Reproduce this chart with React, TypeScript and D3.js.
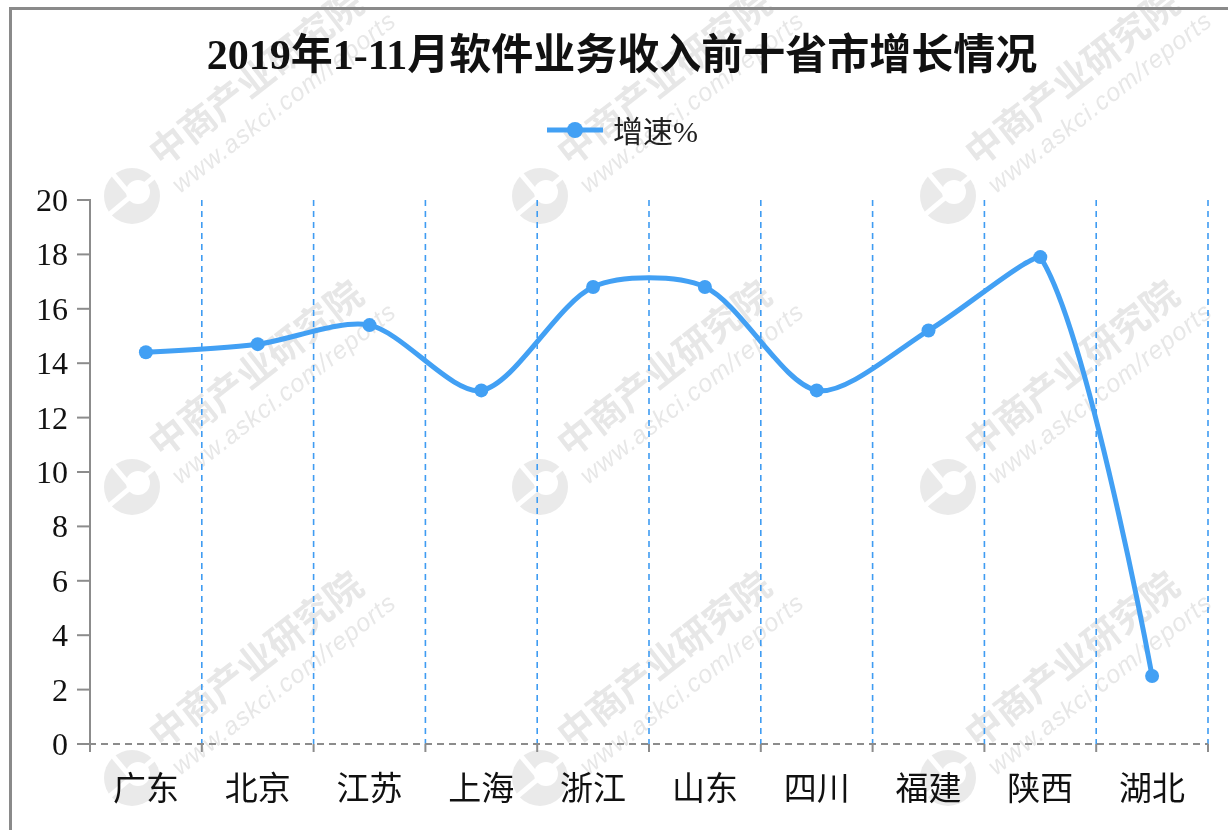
import React from 'react';
import * as d3 from 'd3';

const categories = ['广东', '北京', '江苏', '上海', '浙江', '山东', '四川', '福建', '陕西', '湖北'];
const growth = [14.4, 14.7, 15.4, 13.0, 16.8, 16.8, 13.0, 15.2, 17.9, 2.5];
const seriesName = '增速%';
const titleText = '2019年1-11月软件业务收入前十省市增长情况';
const yDomain = [0, 20];

const W = 1228;
const H = 830;
const LINE = '#42a0f4';
const GRID = '#3f9cf2';
const AXIS = '#8c8c8c';
const SERIF = "'Liberation Serif', 'Noto Sans CJK SC', serif";

// ECharts-4 style smoothed polyline with bounding-box constraint
function smoothPath(pts: [number, number][], smooth: number): string {
  const minX = d3.min(pts, p => p[0])!, maxX = d3.max(pts, p => p[0])!;
  const minY = d3.min(pts, p => p[1])!, maxY = d3.max(pts, p => p[1])!;
  const clamp = (c: [number, number]): [number, number] => [
    Math.max(minX, Math.min(maxX, c[0])),
    Math.max(minY, Math.min(maxY, c[1])),
  ];
  const path = d3.path();
  let cp0: [number, number] = [pts[0][0], pts[0][1]];
  path.moveTo(pts[0][0], pts[0][1]);
  for (let i = 1; i < pts.length; i++) {
    const p = pts[i];
    const prev = pts[i - 1];
    const next = pts[i + 1];
    let cp1: [number, number];
    let v: [number, number] = [0, 0];
    let ratio = 0.5;
    if (!next) {
      cp1 = [p[0], p[1]];
    } else {
      v = [next[0] - prev[0], next[1] - prev[1]];
      const lp = Math.hypot(p[0] - prev[0], p[1] - prev[1]);
      const ln = Math.hypot(p[0] - next[0], p[1] - next[1]);
      ratio = ln / (ln + lp);
      cp1 = [p[0] - v[0] * smooth * (1 - ratio), p[1] - v[1] * smooth * (1 - ratio)];
    }
    const a = clamp(cp0);
    const b = clamp(cp1);
    path.bezierCurveTo(a[0], a[1], b[0], b[1], p[0], p[1]);
    cp0 = [p[0] + v[0] * smooth * ratio, p[1] + v[1] * smooth * ratio];
  }
  return path.toString();
}

function Watermark({ x, y }: { x: number; y: number }) {
  return (
    <g transform={`translate(${x},${y})`} opacity={0.55}>
      <circle r={28} fill="#d9d9d9" />
      <circle r={12} cx={6} cy={-4} fill="#fff" />
      <rect x={-30} y={-3} width={60} height={5} fill="#fff" transform="rotate(-40)" />
      <rect x={-3} y={-30} width={5} height={30} fill="#fff" transform="rotate(-40)" />
      <text
        transform="translate(30,-28) rotate(-38)"
        fontFamily="'Noto Sans CJK SC', sans-serif"
        fontWeight={700}
        fontSize={37}
        fill="#d4d4d4"
      >
        中商产业研究院
      </text>
      <text
        transform="translate(48,-2) rotate(-38)"
        fontFamily="'Liberation Sans', sans-serif"
        fontStyle="italic"
        fontSize={25}
        letterSpacing={1}
        fill="#d4d4d4"
      >
        www.askci.com/reports
      </text>
    </g>
  );
}

export default function App() {
  const x = d3.scaleBand<string>().domain(categories).range([90, 1208]).padding(0);
  const y = d3.scaleLinear().domain(yDomain).range([744, 200]);
  const yTicks = y.ticks(10);
  const pts: [number, number][] = categories.map((c, i) => [x(c)! + x.bandwidth() / 2, y(growth[i])]);
  const boundaries = categories.map(c => x(c)!).concat([x.range()[1]]);

  const wmX = [132, 540, 948];
  const wmY = [196, 487, 778];

  return (
    <svg width={W} height={H} style={{ position: 'absolute', left: 0, top: 0, background: '#fff' }}>
      <rect x={0} y={0} width={W} height={H} fill="#fff" />
      {wmY.map(wy => wmX.map(wx => <Watermark key={`${wx}-${wy}`} x={wx} y={wy} />))}
      <rect x={10.5} y={8.5} width={1400} height={1000} fill="none" stroke="#8a8a8a" strokeWidth={3} />

      <text x={622} y={69} textAnchor="middle" fontFamily={SERIF} fontWeight={700} fontSize={42} fill="#111">
        {titleText}
      </text>

      {/* legend */}
      <line x1={547} x2={603} y1={130} y2={130} stroke={LINE} strokeWidth={5} />
      <circle cx={575} cy={130} r={8} fill={LINE} />
      <text x={613} y={131} dominantBaseline="central" fontFamily={SERIF} fontSize={30} fill="#222">
        {seriesName}
      </text>

      {/* vertical dashed grid */}
      {boundaries.slice(1).map((bx, i) => (
        <line key={i} x1={bx} x2={bx} y1={y(yDomain[1])} y2={y(0)} stroke={GRID} strokeWidth={1.6} strokeDasharray="6,5" />
      ))}

      {/* y axis */}
      <line x1={90} x2={90} y1={y(yDomain[1]) - 1} y2={y(0) + 8} stroke={AXIS} strokeWidth={2} />
      {yTicks.map(t => (
        <g key={t}>
          <line x1={77} x2={90} y1={y(t)} y2={y(t)} stroke={AXIS} strokeWidth={2} />
          <text x={68} y={y(t)} textAnchor="end" dominantBaseline="central" fontFamily={SERIF} fontSize={32} fill="#111">
            {t}
          </text>
        </g>
      ))}

      {/* x axis */}
      <line x1={77} x2={1208} y1={y(0)} y2={y(0)} stroke={AXIS} strokeWidth={2} strokeDasharray="7,5" />
      {boundaries.map((bx, i) => (
        <line key={i} x1={bx} x2={bx} y1={y(0)} y2={y(0) + 8} stroke={AXIS} strokeWidth={2} />
      ))}
      {categories.map(c => (
        <text key={c} x={x(c)! + x.bandwidth() / 2} y={789} textAnchor="middle" dominantBaseline="central" fontFamily={SERIF} fontSize={33} fill="#111">
          {c}
        </text>
      ))}

      {/* series */}
      <path d={smoothPath(pts, 0.28)} fill="none" stroke={LINE} strokeWidth={5} strokeLinejoin="round" />
      {pts.map((p, i) => (
        <circle key={i} cx={p[0]} cy={p[1]} r={7} fill={LINE} />
      ))}
    </svg>
  );
}
